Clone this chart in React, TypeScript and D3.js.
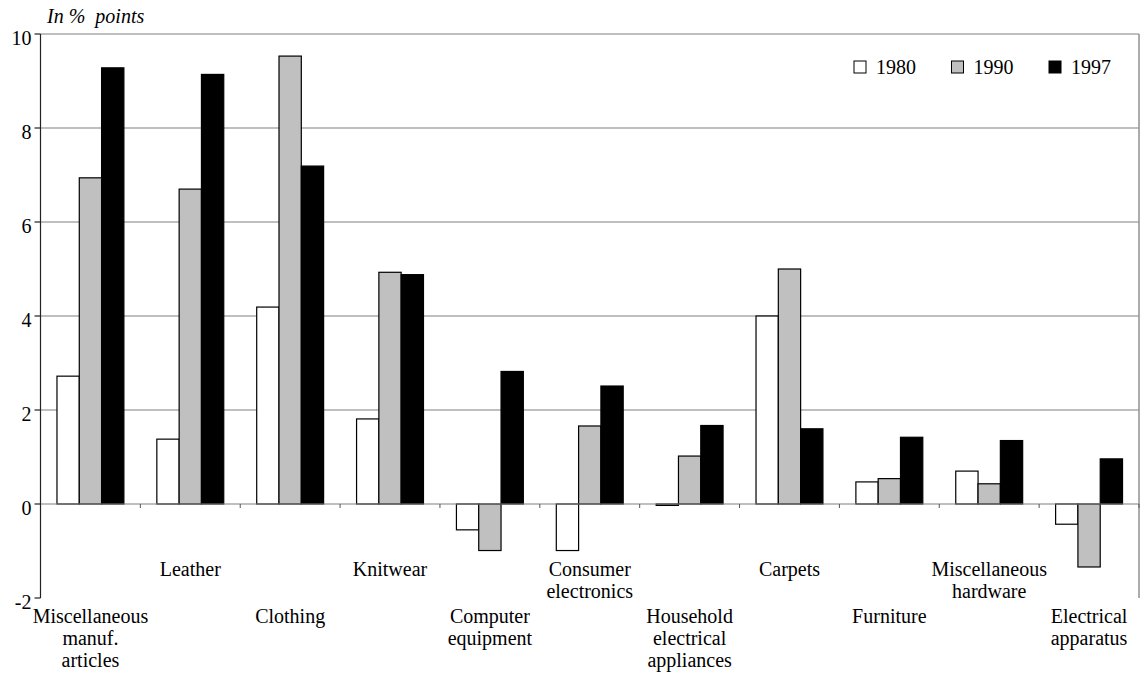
import React from "react";
import * as d3 from "d3";

const categories: string[][] = [
  ["Miscellaneous", "manuf.", "articles"],
  ["Leather"],
  ["Clothing"],
  ["Knitwear"],
  ["Computer", "equipment"],
  ["Consumer", "electronics"],
  ["Household", "electrical", "appliances"],
  ["Carpets"],
  ["Furniture"],
  ["Miscellaneous", "hardware"],
  ["Electrical", "apparatus"],
];
const seriesNames = ["1980", "1990", "1997"];
const v1980 = [2.72, 1.38, 4.19, 1.81, -0.55, -0.99, -0.03, 4.0, 0.47, 0.7, -0.43];
const v1990 = [6.94, 6.7, 9.53, 4.93, -0.99, 1.66, 1.02, 5.0, 0.54, 0.43, -1.34];
const v1997 = [9.28, 9.14, 7.19, 4.88, 2.82, 2.51, 1.67, 1.6, 1.42, 1.35, 0.96];
const yTicks = [-2, 0, 2, 4, 6, 8, 10];
const yLabel = "In %  points";

const W = 1145;
const H = 675;
const FONT = '"Liberation Serif", Tinos, "Times New Roman", Times, "DejaVu Serif", serif';
const fills = ["#ffffff", "#c0c0c0", "#000000"];
const txt: React.CSSProperties = { fontFamily: FONT, fontSize: "20px" };

export default function App() {
  const series = [v1980, v1990, v1997];
  const left = 40.5;
  const right = 1139;
  const x = d3
    .scaleBand<number>()
    .domain(d3.range(categories.length))
    .range([left, right])
    .padding(0);
  const bw = x.bandwidth();
  const inner = d3
    .scaleBand<number>()
    .domain([0, 1, 2])
    .range([bw * 0.165, bw * 0.835])
    .padding(0);
  const y = d3.scaleLinear().domain([-2, 10]).range([598, 34]);
  const y0 = y(0);

  return (
    <svg
      width={W}
      height={H}
      style={{ position: "absolute", left: 0, top: 0, background: "#fff" }}
    >
      {yTicks
        .filter((t) => t > 0)
        .map((t) => (
          <line key={"g" + t} x1={left} x2={right} y1={y(t)} y2={y(t)} stroke="#808080" strokeWidth={1.2} />
        ))}
      <line x1={right} x2={right} y1={y(10)} y2={y(-2)} stroke="#909090" strokeWidth={1.5} />
      {categories.map((_, i) =>
        series.map((s, k) => {
          const v = s[i];
          const bx = (x(i) as number) + (inner(k) as number);
          const top = Math.min(y(v), y0);
          const h = Math.max(Math.abs(y(v) - y0), 0.8);
          return (
            <rect
              key={`b${i}-${k}`}
              x={bx}
              y={top}
              width={inner.bandwidth()}
              height={h}
              fill={fills[k]}
              stroke="#000"
              strokeWidth={1.2}
            />
          );
        })
      )}
      <line x1={left} x2={right} y1={y0} y2={y0} stroke="#808080" strokeWidth={1.2} />
      {d3.range(categories.length + 1).map((i) => {
        const tx = i < categories.length ? (x(i) as number) : right;
        return <line key={"xt" + i} x1={tx} x2={tx} y1={y0} y2={y0 + 4} stroke="#555" strokeWidth={1} />;
      })}
      <line x1={left} x2={left} y1={y(10)} y2={y(-2)} stroke="#222" strokeWidth={1.2} />
      {yTicks.map((t) => (
        <g key={"yt" + t}>
          <line x1={left - 6} x2={left} y1={y(t)} y2={y(t)} stroke="#222" strokeWidth={1.2} />
          <text x={left - 9} y={y(t) + 11} textAnchor="end" style={txt} fill="#000">
            {t}
          </text>
        </g>
      ))}
      <text
        x={47}
        y={22.5}
        fill="#000"
        style={{ fontFamily: FONT, fontSize: "20px", fontStyle: "italic", whiteSpace: "pre" }}
      >
        {yLabel}
      </text>
      {categories.map((lines, i) => {
        const cx = (x(i) as number) + bw / 2;
        const base = i % 2 === 0 ? 623 : 576;
        return (
          <text key={"c" + i} x={cx} y={base} textAnchor="middle" style={txt} fill="#000">
            {lines.map((l, j) => (
              <tspan key={j} x={cx} y={base + j * 22}>
                {l}
              </tspan>
            ))}
          </text>
        );
      })}
      {seriesNames.map((n, k) => {
        const lx = 854 + k * 97.5;
        return (
          <g key={"l" + n}>
            <rect x={lx} y={61} width={12} height={12} fill={fills[k]} stroke="#000" strokeWidth={1} />
            <text x={lx + 22} y={74} style={txt} fill="#000">
              {n}
            </text>
          </g>
        );
      })}
    </svg>
  );
}
